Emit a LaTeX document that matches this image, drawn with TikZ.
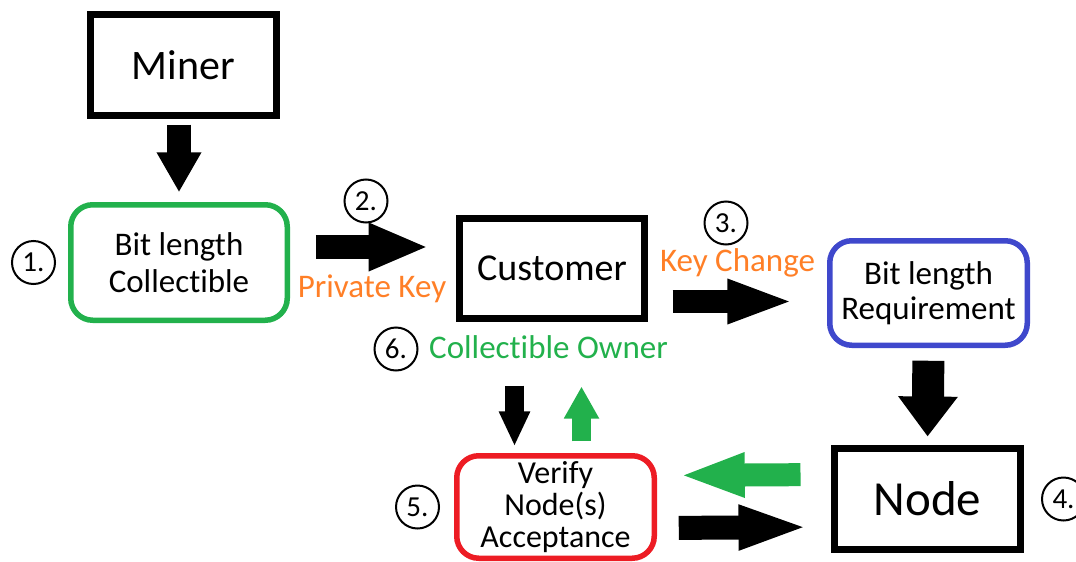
\documentclass[tikz,border=0pt]{standalone}
\usepackage{fontspec}
\setmainfont{Carlito}[Ligatures=NoCommon]
\usepackage{tikz}
\usetikzlibrary{arrows.meta,positioning,calc}

\definecolor{paintgreen}{HTML}{22B14C}
\definecolor{paintblue}{HTML}{3F48CC}
\definecolor{paintred}{HTML}{ED1C24}
\definecolor{paintorange}{HTML}{FF7F27}

\begin{document}
\begin{tikzpicture}[x=1pt, y=-1pt]
  \tikzset{align=center}
  \tikzset{plainbox/.style = {draw, line width=7pt, inner sep=0pt, minimum width=186pt, minimum height=101pt}}
  \tikzset{softbox/.style = {draw=#1, line width=5.5pt, rounded corners=22pt, inner sep=0pt, font=\fontsize{33}{37}\selectfont}}
  \tikzset{stepnum/.style = {shape=circle, draw, line width=2pt, inner sep=0pt, minimum size=43pt, font=\fontsize{29}{32}\selectfont}}
  \tikzset{tag/.style = {font=\fontsize{33}{37}\selectfont, text=#1}}
  \tikzset{fat/.style n args = {3}{line width=#1pt, -{Triangle[length=#2pt, width=#3pt]}}}

  \useasboundingbox (0,0) rectangle (1076,562);

  \node[plainbox, font=\fontsize{42}{48}\selectfont] (miner) at (183.5,65) {Miner};
  \node[softbox=paintgreen, minimum width=216.5pt, minimum height=115.5pt] (collect) at (179,262.5) {Bit length\\Collectible};
  \node[plainbox, minimum width=185pt, minimum height=100pt, font=\fontsize{38}{43}\selectfont] (customer) at (552,268.5) {Customer};
  \node[softbox=paintblue, minimum width=197.5pt, minimum height=104.5pt, font=\fontsize{33}{35}\selectfont] (require) at (928.5,293) {Bit length\\Requirement};
  \node[plainbox, font=\fontsize{49}{54}\selectfont] (node) at (927.5,499) {Node};
  \node[softbox=paintred, minimum width=197.5pt, minimum height=102.5pt, font=\fontsize{32}{32}\selectfont] (verify) at (555.5,507) {Verify\\Node(s)\\Acceptance};

  \node[stepnum, left=12pt of collect] (n1) {1.};
  \node[stepnum] (n2) at (366,201) {2.};
  \node[stepnum] (n3) at (726,223) {3.};
  \node[stepnum, right=17pt of node] (n4) {4.};
  \node[stepnum, left=14pt of verify] (n5) {5.};
  \node[stepnum] (n6) at (396,349) {6.};

  \node[tag=paintorange] (privkey) at (372,289) {Private Key};
  \node[tag=paintorange] (keychange) at (737.5,263) {Key Change};
  \node[tag=paintgreen] (owner) at (548.5,347) {Collectible Owner};

  \path[every edge/.style={draw}]
  (miner.south -| collect.north) edge[fat={24}{40}{42}, shorten <=5.5pt, shorten >=9.75pt] (collect.north)
  ([yshift=15.5pt]collect.east) edge[fat={24}{60}{44}, shorten <=25.75pt, shorten >=27.5pt] ([yshift=21.5pt]customer.west)
  ([yshift=-33pt]customer.east) edge[fat={23}{67}{40}, shorten <=24.5pt, shorten >=32.75pt] ([yshift=-8.5pt]require.west)
  (require.south) edge[fat={32}{40}{57}, shorten <=12.75pt, shorten >=8.5pt] (node.north)
  ([xshift=-37.5pt]customer.south) edge[fat={19}{35}{29}, shorten <=63.5pt, shorten >=6.75pt] ([xshift=-41pt]verify.north)
  ([xshift=26pt]verify.north) edge[fat={19}{32}{33}, draw=paintgreen, shorten <=11.75pt, shorten >=64.5pt] ([xshift=29.5pt]customer.south)
  ([yshift=24.5pt]node.west) edge[fat={23}{66}{40}, draw=paintgreen, shorten <=30.5pt, shorten >=21.75pt] ([yshift=31.5pt]verify.east)
  ([yshift=-21pt]verify.east) edge[fat={24}{71}{40}, shorten <=21.75pt, shorten >=21.5pt] ([yshift=-28pt]node.west)
  ;
\end{tikzpicture}
\end{document}
